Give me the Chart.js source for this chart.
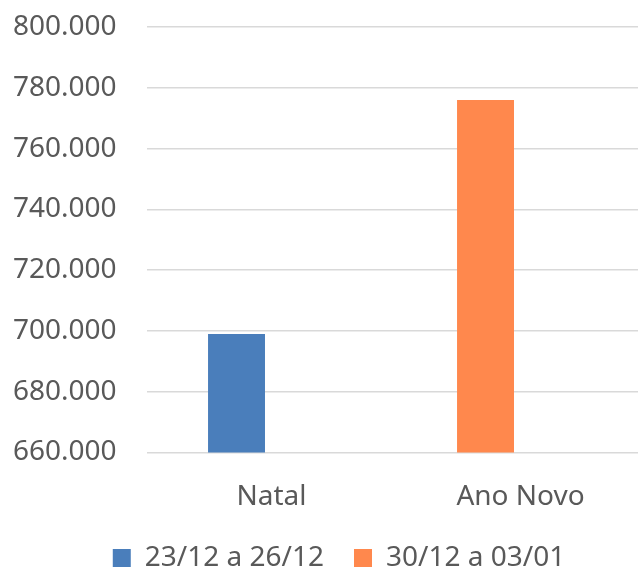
<!DOCTYPE html>
<html>
<head>
<meta charset="utf-8">
<script src="https://cdn.jsdelivr.net/npm/chart.js@4.4.0/dist/chart.umd.min.js"></script>
<style>
  html, body { margin: 0; padding: 0; background: #fff; overflow: hidden; }
  #wrap { width: 638px; height: 570px; overflow: hidden; }
  canvas { display: block; }
</style>
</head>
<body>
<div id="wrap"><canvas id="myChart" width="645" height="570"></canvas></div>
<script>
var categories = ["Natal", "Ano Novo"];
var seriesNames = ["23/12 a 26/12", "30/12 a 03/01"];
var natalValues = [699000, null];
var anoNovoValues = [null, 776000];
var yTicks = { min: 660000, max: 800000, step: 20000 };

var textColor = "#595959";
var fontFamily = "'Noto Sans', sans-serif";

function fmt(v) {
    return String(v).replace(/\B(?=(\d{3})+(?!\d))/g, ".");
}

// nudge the legend after layout (Excel centres it a bit to the right)
var legendShift = {
    id: "legendShift",
    afterLayout: function (chart) {
        var lg = chart.legend;
        if (!lg) return;
        lg.left += 10;
        lg.right += 10;
        lg.top -= 20;
        lg.bottom -= 20;
    },
};

var ctx = document.getElementById("myChart").getContext("2d");

var myChart = new Chart(ctx, {
    type: "bar",
    data: {
        labels: categories,
        datasets: [
            {
                label: seriesNames[0],
                data: natalValues,
                backgroundColor: "#4A7EBB",
                stack: "a",
            },
            {
                label: seriesNames[1],
                data: anoNovoValues,
                backgroundColor: "#FF884D",
                stack: "a",
            },
            {
                // empty slot so the bars sit left of the category centre
                label: "",
                data: [null, null],
                stack: "b",
            },
        ],
    },
    plugins: [legendShift],
    options: {
        responsive: false,
        animation: false,
        categoryPercentage: 0.562,
        barPercentage: 0.814,
        layout: {
            padding: { left: 13, right: 0, top: 27, bottom: -32 },
        },
        plugins: {
            tooltip: { enabled: false },
            legend: {
                position: "bottom",
                labels: {
                    color: textColor,
                    font: { family: fontFamily, size: 28 },
                    boxWidth: 18,
                    boxHeight: 18,
                    padding: 30,
                    filter: function (item) {
                        return item.text !== "";
                    },
                },
            },
        },
        scales: {
            x: {
                grid: { display: false },
                border: { display: false },
                ticks: {
                    color: textColor,
                    font: { family: fontFamily, size: 28 },
                    padding: 20,
                },
            },
            y: {
                min: yTicks.min,
                max: yTicks.max,
                afterFit: function (scale) {
                    scale.width = 134;
                },
                grid: {
                    color: "#d9d9d9",
                    lineWidth: 1.5,
                    drawTicks: false,
                },
                border: { display: false },
                ticks: {
                    stepSize: yTicks.step,
                    color: textColor,
                    font: { family: fontFamily, size: 28 },
                    padding: 0,
                    crossAlign: "far",
                    callback: function (v) {
                        return fmt(v);
                    },
                },
            },
        },
    },
});
</script>
</body>
</html>
